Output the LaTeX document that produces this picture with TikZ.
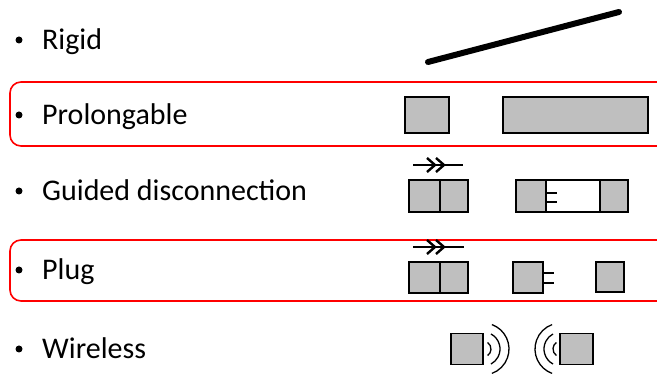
\documentclass[tikz,border=0pt]{standalone}
\usepackage{fontspec}
\setmainfont{Carlito}
\begin{document}
\begin{tikzpicture}[x=1pt,y=-1pt,
  label/.style={anchor=base west,inner sep=0pt,font=\fontsize{30}{36}\selectfont},
  dot/.style={circle,fill=black,inner sep=0pt,minimum size=7pt},
  frame/.style={draw=red,line width=1.6pt,rounded corners=11pt},
  part/.style={draw=black,fill=gray!50!white,line width=1.7pt},
  wire/.style={draw=black,line width=1.7pt},
  chev/.style={draw=black,line width=2.4pt},
  wave/.style={draw=black,line width=1.3pt}]
\useasboundingbox (0,0) rectangle (657,374);

% highlighted rows
\draw[frame] (10,82) rectangle (680,146);
\draw[frame] (10,240) rectangle (680,301);

% row captions
\foreach \n/\y/\t in {r/50/Rigid,p/125/Prolongable,g/201/Guided disconnection,u/280/Plug,w/359/Wireless}{
  \node[dot] (b\n) at (19,\y-10) {};
  \node[label] (t\n) at (42,\y) {\t};
}

% rigid
\coordinate (ra) at (428,62);
\coordinate (rb) at (619,12);
\draw[line width=6pt,line cap=round] (ra) -- (rb);

% prolongable
\node[part,minimum width=44pt,minimum height=36pt,inner sep=0pt] (p1) at (427,115) {};
\node[part,minimum width=145pt,minimum height=36pt,inner sep=0pt] (p2) at (575.5,115) {};

% guided disconnection symbol
\coordinate (ga) at (413,165);
\coordinate (gb) at (463,165);
\draw[wire] (ga) -- (gb);
\draw[chev] (427,158) -- (435,165) -- (427,172);
\draw[chev] (436,158) -- (444,165) -- (436,172);

% guided disconnection: coupled pair
\draw[part] (409,180) rectangle (440,212);
\draw[part] (440,180) rectangle (468,212);
% guided disconnection: separated in guide
\draw[part] (516,180) rectangle (546,212);
\draw[part] (600,180) rectangle (628,212);
\draw[wire] (516,180) rectangle (628,212);
\draw[wire] (546,193) -- (557,193);
\draw[wire] (546,202) -- (557,202);

% plug symbol
\coordinate (ua) at (413,247);
\coordinate (ub) at (464,247);
\draw[wire] (ua) -- (ub);
\draw[chev] (427,240) -- (435,247) -- (427,254);
\draw[chev] (436,240) -- (444,247) -- (436,254);

% plug: coupled pair
\draw[part] (409,262) rectangle (440,293);
\draw[part] (440,262) rectangle (468,293);
% plug: separated
\draw[part] (513,262) rectangle (543,293);
\draw[wire] (543,273) -- (554,273);
\draw[wire] (543,283) -- (554,283);
\draw[part] (596,262) rectangle (624,292);

% wireless
\node[part,minimum width=32pt,minimum height=31pt,inner sep=0pt] (w1) at (467,349) {};
\node[part,minimum width=33pt,minimum height=31pt,inner sep=0pt] (w2) at (576.5,349) {};
\draw[wave] (483,349) ++(-55:8) arc (-55:55:8);
\draw[wave] (483,349) ++(-62:17) arc (-62:62:17);
\draw[wave] (483,349) ++(-70:26) arc (-70:70:26);
\draw[wave] (561,349) ++(125:8) arc (125:235:8);
\draw[wave] (561,349) ++(118:17) arc (118:242:17);
\draw[wave] (561,349) ++(110:26) arc (110:250:26);
\end{tikzpicture}
\end{document}
